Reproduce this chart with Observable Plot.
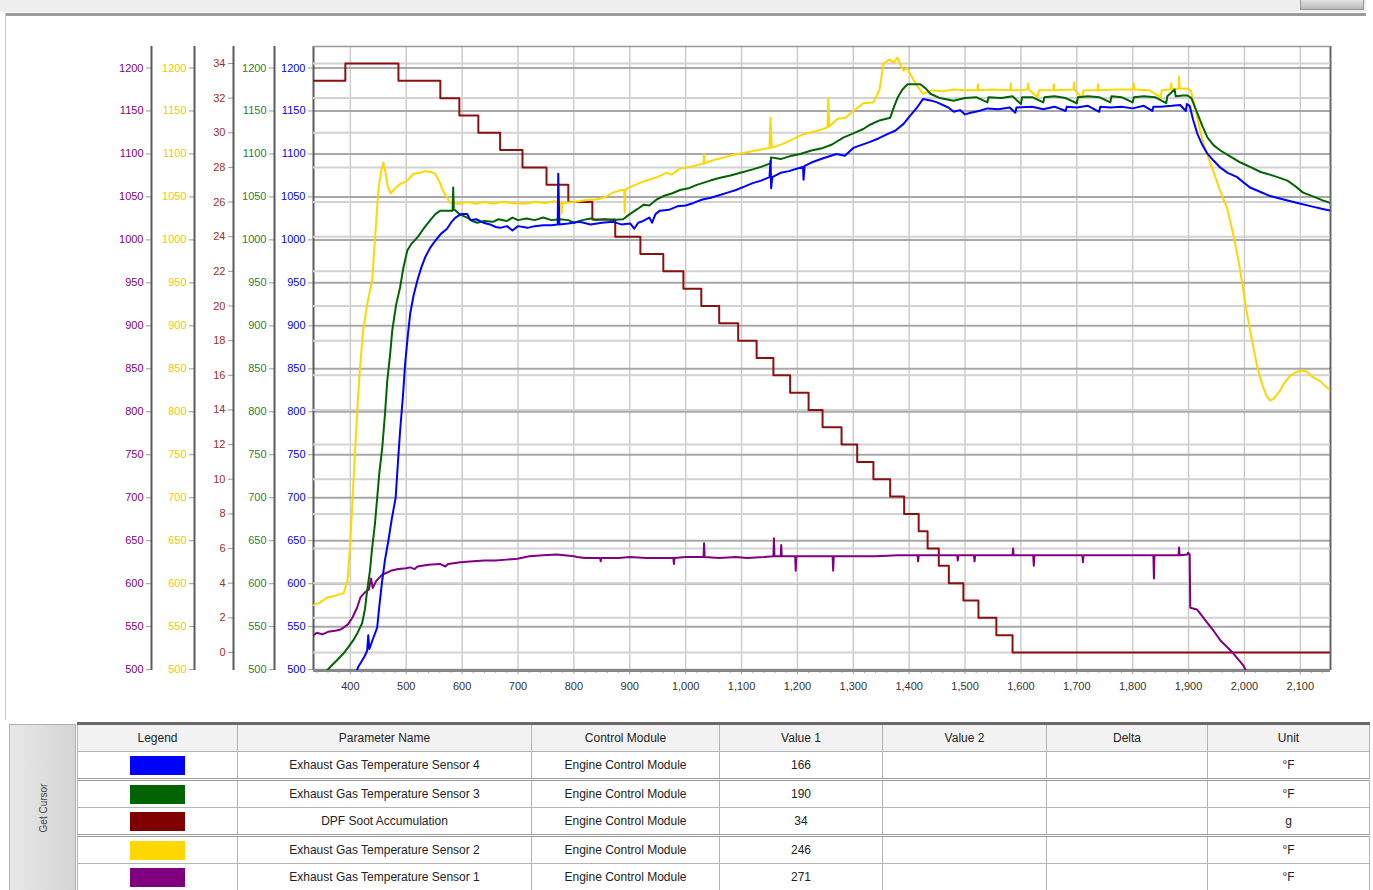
<!DOCTYPE html>
<html><head><meta charset="utf-8">
<script src="https://cdn.jsdelivr.net/npm/d3@7"></script>
<script src="https://cdn.jsdelivr.net/npm/@observablehq/plot@0.6"></script>
<style>
body{margin:0;background:#fff;}
#page{position:relative;width:1373px;height:890px;overflow:hidden;font-family:"Liberation Sans",Arial,sans-serif;}
#topbar{position:absolute;left:0;top:0;width:1366px;height:12px;background:#eeeeee;}
#topline{position:absolute;left:5px;top:13px;width:1361px;height:3px;background:#9a9a9a;}
#leftline{position:absolute;left:5px;top:13px;width:1px;height:707px;background:#c8c8c8;}
#btn{position:absolute;left:1300px;top:0;width:62px;height:9px;background:linear-gradient(#e4e4e4,#b8b8b8);border:1px solid #999;border-top:none;}
.layer{position:absolute;left:0;top:0;}
#getcursor{position:absolute;left:9px;top:724px;width:65px;height:166px;background:linear-gradient(to right,#e8e8e8,#d4d4d4);border:1px solid #b0b0b0;}
#getcursor span{position:absolute;left:50%;top:50%;transform:translate(-50%,-50%) rotate(-90deg);font-size:10px;color:#444;white-space:nowrap;}
table{position:absolute;left:77px;top:722px;border-collapse:collapse;table-layout:fixed;width:1292px;border-top:3px solid #6a6a6a;font-size:12px;color:#222;}
th,td{border:1px solid #b4b4b4;text-align:center;padding:0;height:26px;font-weight:normal;white-space:nowrap;}
th{background:#f2f2f2;height:26px;}
tr.sep td{border-bottom:3px double #9a9a9a;}
.sw{display:inline-block;width:55px;height:19px;vertical-align:middle;}
</style></head>
<body>
<div id="page">
  <div id="topbar"></div><div id="btn"></div><div id="topline"></div><div id="leftline"></div>
  <div id="chart"></div>
  <div id="getcursor"><span>Get Cursor</span></div>
  <table id="tbl"></table>
</div>
<script>
// ---------- data ----------
const timeTicks = [400,500,600,700,800,900,1000,1100,1200,1300,1400,1500,1600,1700,1800,1900,2000,2100];
const minorTimeTicks = [340,360,380,420,440,460,480,520,540,560,580,620,640,660,680,720,740,760,780,820,840,860,880,920,940,960,980,1020,1040,1060,1080,1120,1140,1160,1180,1220,1240,1260,1280,1320,1340,1360,1380,1420,1440,1460,1480,1520,1540,1560,1580,1620,1640,1660,1680,1720,1740,1760,1780,1820,1840,1860,1880,1920,1940,1960,1980,2020,2040,2060,2080,2120,2140];
const tempTicks = [500,550,600,650,700,750,800,850,900,950,1000,1050,1100,1150,1200];
const sootTicks = [0,2,4,6,8,10,12,14,16,18,20,22,24,26,28,30,32,34];
const timeDomain = [334, 2154];
const tempDomain = [499, 1225];
const sootDomain = [-1.04, 34.98];

// Exhaust Gas Temperature Sensor 4 (blue, °F)
const sensor4 = [[410,497],[414,503],[425,515],[430,522],[432,540],[434,524],[440,535],[448,549],[452,575],[457,604],[462,628],[468,650],[474,675],[481,700],[485,740],[489,778],[494,818],[498,856],[503,890],[507,914],[513,935],[520,953],[527,968],[534,980],[543,991],[552,999],[562,1007],[573,1013],[580,1020],[588,1026],[598,1030],[609,1030],[615,1023],[625,1024],[638,1020],[650,1018],[660,1015],[668,1014],[680,1016],[690,1011],[700,1016],[717,1014],[730,1016],[745,1017],[760,1017],[771,1018],[772,1077],[774,1018],[790,1019],[810,1021],[830,1018],[850,1020],[870,1021],[885,1018],[901,1019],[908,1013],[915,1020],[924,1022],[935,1026],[940,1020],[946,1030],[954,1034],[970,1035],[985,1039],[1000,1040],[1014,1043],[1030,1047],[1045,1049],[1060,1052],[1075,1055],[1090,1058],[1105,1062],[1120,1066],[1135,1069],[1150,1073],[1152,1092],[1153,1060],[1155,1073],[1170,1078],[1185,1080],[1200,1083],[1210,1085],[1211,1070],[1213,1086],[1225,1090],[1246,1095],[1270,1100],[1285,1098],[1300,1107],[1330,1114],[1345,1118],[1361,1123],[1375,1127],[1390,1135],[1400,1143],[1414,1154],[1425,1164],[1440,1162],[1450,1160],[1470,1154],[1480,1149],[1491,1151],[1500,1146],[1510,1148],[1525,1150],[1540,1153],[1560,1152],[1580,1154],[1590,1148],[1592,1154],[1620,1155],[1640,1152],[1660,1155],[1680,1150],[1682,1155],[1700,1154],[1720,1156],[1740,1149],[1742,1155],[1760,1154],[1780,1155],[1800,1153],[1820,1156],[1835,1150],[1837,1155],[1850,1155],[1870,1156],[1885,1157],[1895,1150],[1897,1158],[1902,1156],[1908,1140],[1916,1123],[1925,1110],[1934,1100],[1945,1092],[1957,1084],[1970,1078],[1987,1073],[2000,1066],[2010,1061],[2028,1056],[2046,1051],[2070,1047],[2095,1043],[2120,1039],[2140,1036],[2154,1034]];

// Exhaust Gas Temperature Sensor 3 (green, °F)
const sensor3 = [[355,497],[364,503],[376,511],[388,519],[396,526],[405,534],[413,543],[421,554],[426,570],[430,592],[435,615],[439,642],[444,670],[448,700],[452,730],[457,758],[462,798],[466,836],[471,866],[475,895],[482,925],[489,945],[495,968],[502,988],[510,996],[520,1003],[531,1013],[543,1023],[552,1030],[561,1034],[572,1034],[583,1034],[584,1061],[585,1036],[595,1030],[609,1026],[618,1022],[627,1020],[640,1022],[655,1021],[665,1024],[680,1022],[690,1026],[700,1023],[715,1025],[730,1023],[745,1026],[760,1023],[775,1024],[790,1023],[800,1020],[815,1023],[830,1025],[840,1023],[855,1024],[870,1023],[888,1024],[900,1030],[914,1036],[925,1041],[935,1040],[948,1047],[960,1051],[975,1054],[990,1058],[1005,1060],[1020,1064],[1044,1069],[1060,1072],[1080,1075],[1103,1079],[1120,1082],[1135,1085],[1152,1089],[1153,1096],[1170,1094],[1190,1098],[1205,1100],[1225,1104],[1246,1107],[1262,1111],[1282,1119],[1300,1124],[1318,1129],[1330,1134],[1347,1139],[1366,1142],[1373,1155],[1379,1165],[1388,1175],[1397,1181],[1420,1181],[1430,1176],[1438,1170],[1455,1165],[1479,1162],[1500,1165],[1520,1166],[1540,1160],[1542,1166],[1565,1165],[1585,1167],[1600,1158],[1602,1166],[1620,1166],[1640,1160],[1642,1166],[1660,1167],[1680,1165],[1700,1159],[1702,1166],[1720,1167],[1740,1166],[1760,1160],[1762,1167],[1780,1166],[1800,1160],[1802,1166],[1820,1167],[1840,1166],[1860,1159],[1862,1167],[1875,1175],[1877,1167],[1890,1168],[1898,1168],[1905,1165],[1916,1147],[1925,1132],[1934,1119],[1945,1110],[1957,1104],[1975,1097],[1993,1090],[2010,1085],[2029,1079],[2050,1075],[2077,1069],[2090,1063],[2105,1055],[2125,1050],[2140,1046],[2154,1043]];

// DPF Soot Accumulation (dark red, g)
const soot = [[334,33],[391,34],[486,33],[561,32],[595,31],[629,30],[668,29],[708,28],[751,27],[790,26],[833,25],[874,24],[919,23],[960,22],[996,21],[1028,20],[1060,19],[1094,18],[1127,17],[1157,16],[1187,15],[1220,14],[1245,13],[1279,12],[1307,11],[1336,10],[1366,9],[1391,8],[1417,7],[1433,6],[1453,5],[1471,4],[1497,3],[1524,2],[1556,1],[1585,0],[2154,0]];

// Exhaust Gas Temperature Sensor 2 (yellow, °F)
const sensor2 = [[334,575],[345,578],[359,584],[372,586],[388,589],[395,604],[400,650],[404,700],[408,750],[412,798],[417,850],[423,895],[430,925],[439,953],[445,1010],[450,1057],[455,1080],[459,1090],[463,1078],[467,1062],[472,1054],[480,1060],[489,1065],[500,1068],[513,1077],[524,1078],[534,1080],[544,1079],[552,1077],[559,1068],[566,1057],[572,1050],[579,1043],[595,1042],[610,1044],[625,1042],[640,1044],[655,1042],[670,1044],[690,1043],[710,1042],[730,1044],[750,1043],[765,1045],[777,1043],[778,1031],[779,1043],[800,1044],[820,1046],[840,1047],[853,1049],[870,1055],[885,1058],[890,1058],[891,1032],[892,1058],[896,1060],[910,1064],[925,1068],[949,1073],[965,1078],[975,1076],[990,1083],[1010,1085],[1032,1089],[1033,1100],[1034,1089],[1050,1093],[1070,1096],[1085,1099],[1103,1101],[1125,1104],[1150,1107],[1152,1142],[1154,1107],[1175,1112],[1195,1118],[1211,1123],[1230,1126],[1246,1129],[1254,1131],[1255,1165],[1257,1132],[1272,1141],[1286,1142],[1300,1150],[1318,1159],[1336,1160],[1347,1175],[1354,1205],[1365,1210],[1372,1206],[1379,1212],[1385,1203],[1390,1197],[1396,1200],[1402,1193],[1408,1186],[1414,1179],[1425,1170],[1440,1174],[1460,1173],[1480,1175],[1500,1174],[1522,1174],[1523,1181],[1524,1174],[1550,1175],[1581,1174],[1582,1182],[1583,1174],[1600,1174],[1612,1175],[1613,1182],[1614,1175],[1630,1166],[1632,1174],[1658,1174],[1659,1181],[1660,1174],[1694,1175],[1695,1183],[1696,1175],[1710,1165],[1712,1174],[1737,1174],[1738,1181],[1739,1174],[1770,1175],[1801,1175],[1802,1182],[1803,1175],[1830,1174],[1850,1166],[1852,1174],[1868,1175],[1869,1182],[1870,1175],[1882,1176],[1883,1190],[1884,1176],[1898,1176],[1904,1174],[1913,1150],[1922,1123],[1933,1100],[1944,1080],[1956,1058],[1969,1037],[1978,1012],[1987,984],[1993,962],[1998,941],[2003,920],[2010,895],[2016,875],[2023,852],[2029,838],[2034,828],[2040,818],[2046,813],[2052,815],[2058,820],[2064,825],[2072,834],[2082,842],[2092,846],[2105,848],[2113,846],[2123,840],[2135,836],[2143,831],[2150,827],[2154,825]];

// Exhaust Gas Temperature Sensor 1 (purple, °F)
const sensor1 = [[334,540],[340,543],[350,541],[360,544],[370,545],[380,546],[388,549],[396,553],[404,561],[412,572],[418,584],[426,590],[433,593],[437,606],[440,595],[446,603],[456,610],[466,613],[472,615],[486,617],[500,618],[507,619],[515,617],[520,620],[540,622],[560,623],[570,620],[575,623],[597,625],[620,626],[640,627],[660,627],[680,628],[699,629],[720,632],[745,633],[770,634],[800,632],[806,631],[820,630],[847,630],[848,626],[849,630],[880,630],[900,631],[930,630],[960,630],[978,630],[979,623],[980,630],[1000,631],[1032,631],[1033,647],[1034,631],[1060,630],[1090,631],[1110,630],[1140,631],[1157,632],[1158,653],[1159,632],[1170,632],[1171,645],[1172,632],[1196,632],[1197,615],[1198,632],[1220,632],[1240,632],[1263,632],[1264,615],[1265,632],[1300,632],[1340,632],[1380,633],[1415,633],[1416,626],[1417,633],[1450,633],[1486,633],[1487,627],[1488,633],[1516,633],[1517,626],[1518,633],[1550,633],[1585,633],[1586,641],[1587,633],[1622,633],[1623,621],[1624,633],[1660,633],[1710,633],[1711,625],[1712,633],[1760,633],[1800,633],[1837,633],[1838,606],[1839,633],[1860,633],[1882,633],[1883,642],[1884,633],[1898,634],[1899,636],[1902,634],[1903,572],[1915,570],[1934,554],[1945,545],[1957,534],[1968,527],[1980,519],[1990,511],[1998,505],[2004,497]];

// table
const legendColors = ["#0000ff","#006400","#800000","#ffd700","#800080"];
const paramNames = ["Exhaust Gas Temperature Sensor 4","Exhaust Gas Temperature Sensor 3","DPF Soot Accumulation","Exhaust Gas Temperature Sensor 2","Exhaust Gas Temperature Sensor 1"];
const modules = ["Engine Control Module","Engine Control Module","Engine Control Module","Engine Control Module","Engine Control Module"];
const value1 = ["166","190","34","246","271"];
const units = ["°F","°F","g","°F","°F"];
const headers = ["Legend","Parameter Name","Control Module","Value 1","Value 2","Delta","Unit"];
const colWidths = [160,294,188,163,164,161,162];

// ---------- drawing ----------
const FONT = '"Liberation Sans",Arial,sans-serif';
const W = 1373, H = 712;
const base = {width: W, height: H, marginLeft: 313, marginRight: 43, marginTop: 46, marginBottom: 42,
  style: {background: "transparent", fontFamily: FONT, fontSize: "11px", overflow: "visible"}};
const plain = d => String(d);
const comma = d3.format(",d");

const tempAxes = [
  {color: "#800080", dx: -162},
  {color: "#f0c800", dx: -119},
  {color: "#2e7d32", dx: -39},
  {color: "#0000ff", dx: 0}
];

const layer1 = Plot.plot({...base,
  x: {domain: timeDomain, axis: null},
  y: {domain: tempDomain, axis: null},
  marks: [
    Plot.gridX(timeTicks, {stroke: "#cdcdcd", strokeOpacity: 1, strokeWidth: 1.5}),
    Plot.gridY(tempTicks, {stroke: "#a8a8a8", strokeOpacity: 1, strokeWidth: 2}),
    Plot.axisX(minorTimeTicks, {tickSize: 3, tickFormat: () => "", stroke: "#aaa", label: null}),
    Plot.axisX(timeTicks, {tickSize: 4, tickPadding: 8, tickFormat: comma, fill: "#333", stroke: "#999", label: null}),
    ...tempAxes.map(a => Plot.axisY(tempTicks, {anchor: "left", dx: a.dx, tickSize: 5, tickPadding: 3, tickFormat: plain, fill: a.color, stroke: "#999", label: null})),
    ...tempAxes.map(a => Plot.ruleX([timeDomain[0]], {dx: a.dx, stroke: "#5a5a5a", strokeWidth: 2})),
    Plot.ruleX([timeDomain[1]], {stroke: "#666", strokeWidth: 2}),
    Plot.ruleY([tempDomain[1]], {stroke: "#999", strokeWidth: 1.5}),
    Plot.ruleY([tempDomain[0]], {stroke: "#888", strokeWidth: 3})
  ]
});

const layer2 = Plot.plot({...base,
  x: {domain: timeDomain, axis: null},
  y: {domain: sootDomain, axis: null},
  marks: [
    Plot.gridY(sootTicks, {stroke: "#d2d2d2", strokeOpacity: 1, strokeWidth: 2}),
    Plot.axisY(sootTicks, {anchor: "left", dx: -80, tickSize: 5, tickPadding: 3, tickFormat: plain, fill: "#a52a2a", stroke: "#999", label: null}),
    Plot.ruleX([timeDomain[0]], {dx: -80, stroke: "#5a5a5a", strokeWidth: 2}),
    Plot.line(soot, {curve: "step-after", stroke: "#8b1010", strokeWidth: 2, clip: true})
  ]
});

const layer3 = Plot.plot({...base,
  x: {domain: timeDomain, axis: null},
  y: {domain: tempDomain, axis: null},
  marks: [
    Plot.line(sensor1, {stroke: "#800080", strokeWidth: 2, clip: true}),
    Plot.line(sensor2, {stroke: "#ffd700", strokeWidth: 2, clip: true}),
    Plot.line(sensor3, {stroke: "#006400", strokeWidth: 2, clip: true}),
    Plot.line(sensor4, {stroke: "#0000ff", strokeWidth: 2, clip: true})
  ]
});

const chart = document.getElementById("chart");
for (const l of [layer1, layer2, layer3]) {
  const d = document.createElement("div");
  d.className = "layer";
  d.appendChild(l);
  chart.appendChild(d);
}

// table
const tbl = document.getElementById("tbl");
const cg = document.createElement("colgroup");
colWidths.forEach(w => { const c = document.createElement("col"); c.style.width = w + "px"; cg.appendChild(c); });
tbl.appendChild(cg);
const hr = document.createElement("tr");
headers.forEach(h => { const th = document.createElement("th"); th.textContent = h; hr.appendChild(th); });
tbl.appendChild(hr);
paramNames.forEach((name, i) => {
  const tr = document.createElement("tr");
  if (i === 0 || i === 2) tr.className = "sep";
  const cells = ["", name, modules[i], value1[i], "", "", units[i]];
  cells.forEach((c, j) => {
    const td = document.createElement("td");
    if (j === 0) { const s = document.createElement("span"); s.className = "sw"; s.style.background = legendColors[i]; td.appendChild(s); }
    else td.textContent = c;
    tr.appendChild(td);
  });
  tbl.appendChild(tr);
});
</script>
</body></html>
